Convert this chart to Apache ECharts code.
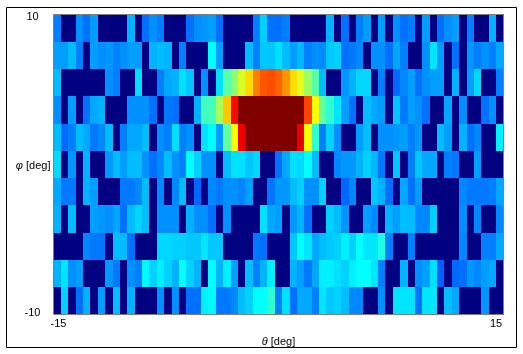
<!DOCTYPE html>
<html>
<head>
<meta charset="utf-8">
<style>
html,body{margin:0;padding:0;background:#fff;}
#main{width:523px;height:354px;}
</style>
<script src="https://cdn.jsdelivr.net/npm/echarts@6/dist/echarts.min.js"></script>
</head>
<body>
<div id="main"></div>
<script>
var thetaList = [-15,-14.5,-14,-13.5,-13,-12.5,-12,-11.5,-11,-10.5,-10,-9.5,-9,-8.5,-8,-7.5,-7,-6.5,-6,-5.5,-5,-4.5,-4,-3.5,-3,-2.5,-2,-1.5,-1,-0.5,0,0.5,1,1.5,2,2.5,3,3.5,4,4.5,5,5.5,6,6.5,7,7.5,8,8.5,9,9.5,10,10.5,11,11.5,12,12.5,13,13.5,14,14.5,15];
var phiList = [-10,-8,-6,-4,-2,0,2,4,6,8,10];

// one list per phi row, dark blue cells are 0
var phi10 = [25,0,0,26.6,23.5,28,0,0,0,0,
  30,0,23.5,26.6,25,0,0,0,23.5,26.6,
  27.4,28,23.5,0,0,0,0,25,33,23.5,
  23.5,25,0,0,0,0,0,30,0,23.5,
  0,25,28,0,28,0,26.6,23.5,25,0,
  28,0,23.5,26.6,28,0,25,0,0,30,
  0];
var phi8 = [28,28,31,25,0,28,26.6,27.4,25,26.6,
  28,28,0,30,31,30,0,25,0,0,
  0,37.5,28,0,0,0,31,25,32,32,
  34.5,31,28,30.5,25,26.6,25.8,32,33,23.5,
  24.3,25.8,0,26.6,26.6,23.5,29,25,0,0,
  26.6,35,28,0,23.5,0,27.4,25,26.6,25,
  29];
var phi6 = [31,0,0,0,0,0,0,26.6,25,0,
  0,34.5,0,0,25,29,30,34.5,32,0,
  26.6,0,34.5,46,51,59,66,75,79,80,
  78,73,66,60,53,46,31,0,0,27.4,
  30,33.7,33.7,0,25,0,22.7,25.8,28,23.5,
  26.6,28,28,0,30,0,28,33.7,0,0,
  25];
var phi4 = [26.6,0,28,0,23.5,29,30,0,0,0,
  26.6,26.6,26.6,23.5,0,24.3,23.5,0,0,30,
  44,44,54,68,87,100,100,100,100,100,
  100,100,100,100,81,62,47,42,35,28,
  23.5,0,31,29,28,0,32,24.3,28,26.6,
  23.5,0,0,29,0,26.6,0,0,23.5,26.6,
  0];
var phi2 = [31,23,25,31,29,24.3,25.8,31,0,25,
  29,29,31,0,26.6,25,34.5,25,26.6,0,
  34.5,37.5,28,47,62,89,100,100,100,100,
  100,100,100,90,62,42,25,33,26.6,0,
  0,28,31,0,26.6,26.6,27.4,28,25,27.4,
  0,0,31,28,0,30,23.5,25.8,0,0,
  36];
var phi0 = [34,0,27.4,0,30,0,0,27.4,31,28,
  31,31,26.6,23.5,25.8,31,26.6,25,37.5,33,
  26.6,26.6,0,31,34.5,34.5,32,33.7,0,0,
  23.5,29,34.5,33.7,37.5,31,0,0,25.8,27.4,
  27.4,30,33,30.5,24.3,0,32,0,25,32,
  29,29,0,25,24.3,0,0,28,0,0,
  0];
var phiM2 = [29,24.3,24.3,0,30,28,0,0,0,24.3,
  24.3,25.8,31,0,25.8,0,25.8,31,0,22.7,
  0,25.8,24.3,26.6,26.6,25.5,28,0,0,24,
  27.4,27.4,31,33,26.6,26.6,33,0,0,22.7,
  25.8,0,0,32,30,23.5,0,29,23.5,28,
  0,0,0,0,0,25.8,24.3,24.3,24.3,25,
  29];
var phiM4 = [30,0,31,0,0,28,27.4,26.6,29,23.5,
  31,33.7,31,0,26.6,26.6,26.6,0,30,26.6,
  26.6,23.5,0,26.6,0,0,0,0,34.5,29,
  28,0,27.4,30,23.5,0,0,33,31,27.4,
  0,0,28,25.8,0,30,28,31,31,25.8,
  25.8,33,0,0,0,26.6,0,25.8,0,0,
  25.8];
var phiM6 = [0,0,0,0,25.8,24.3,24.3,0,31,31,
  23.5,0,0,0,33.7,33.7,33,33,32,32,
  35,32,32,0,0,0,0,24.3,23.5,0,
  0,0,32,37.5,35,29,31,32,33,36,
  33,37.5,35,35,40,25,0,0,25,0,
  0,0,0,0,0,25.8,0,0,25,25,
  29];
var phiM8 = [30,35,26.6,28,0,0,0,27.4,24.3,0,
  26.6,25,37,33,36,33,30,38,33,30,
  0,37.5,30,36,28,0,31,25,30,36,
  0,0,30,28,24.3,29,36,36,34.5,33,
  36,37.5,37.5,35,25,0,0,30,0,26.6,
  28,34.5,22,0,22.7,23.5,27.4,25.8,28,29,
  0];
var phiM10 = [0,33,0,23.5,30,0,28,0,31,0,
  30,0,0,0,26.6,0,26.6,0,23.5,23.5,
  36,37,24.3,24.3,25.8,31,33,37.5,37.5,42,
  25,34.5,23.5,29,29,25,35,32,33,31,
  25.8,25.8,0,0,26.6,0,35,35,35,23.5,
  35,35,0,31,29,0,0,0,27.4,0,
  0];
var rows = [phiM10,phiM8,phiM6,phiM4,phiM2,phi0,phi2,phi4,phi6,phi8,phi10];

var jet = ['#000080','#0000ff','#0080ff','#00ffff','#80ff80','#ffff00','#ff8000','#ff0000','#800000'];
var labelFont = 'Liberation Sans';

var cells = [];
rows.forEach(function (row, y) {
    row.forEach(function (v, x) {
        cells.push([x, y, v]);
    });
});

// heatmap series leaves seams between fractional cells, so snap edges to pixels here
function renderCell(params, api) {
    var c = api.coord([api.value(0), api.value(1)]);
    var s = api.size([1, 1]);
    var x0 = Math.round(c[0] - s[0] / 2);
    var x1 = Math.round(c[0] + s[0] / 2);
    var y0 = Math.round(c[1] - s[1] / 2);
    var y1 = Math.round(c[1] + s[1] / 2);
    return {
        type: 'rect',
        shape: {x: x0, y: y0, width: x1 - x0, height: y1 - y0},
        style: {fill: api.visual('color')}
    };
}

var textStyle = {color: '#000', fontFamily: labelFont, fontSize: 11};

var myChart = echarts.init(document.getElementById('main'));
var option = {
    animation: false,
    backgroundColor: '#fff',
    grid: {
        show: true,
        z: 5,
        left: 53.5,
        top: 14.5,
        width: 450,
        height: 300,
        outerBoundsMode: 'none',
        borderColor: '#808080',
        borderWidth: 1,
        backgroundColor: 'transparent'
    },
    visualMap: {
        show: false,
        min: 0,
        max: 100,
        dimension: 2,
        seriesIndex: 0,
        inRange: {color: jet}
    },
    xAxis: [{
        type: 'category',
        data: thetaList,
        show: false
    }, {
        type: 'value',
        min: -15,
        max: 15,
        interval: 30,
        position: 'bottom',
        axisLine: {show: false},
        axisTick: {show: false},
        splitLine: {show: false},
        axisLabel: {
            margin: 4,
            color: '#000',
            formatter: function (v) {
                return (v < 0 ? '{a|' : '{b|') + v + '}';
            },
            rich: {
                a: Object.assign({padding: [0, 0, 0, 10]}, textStyle),
                b: Object.assign({padding: [0, 15, 0, 0]}, textStyle)
            }
        },
        name: '{i|θ} [deg]',
        nameLocation: 'middle',
        nameGap: 22,
        nameMoveOverlap: false,
        nameTextStyle: Object.assign({
            rich: {i: Object.assign({fontStyle: 'italic'}, textStyle)}
        }, textStyle)
    }],
    yAxis: [{
        type: 'category',
        data: phiList,
        show: false
    }, {
        type: 'value',
        min: -10,
        max: 10,
        interval: 20,
        position: 'left',
        axisLine: {show: false},
        axisTick: {show: false},
        splitLine: {show: false},
        axisLabel: {
            margin: 21,
            align: 'center',
            formatter: function (v) {
                return (v < 0 ? '{a|' : '{b|') + v + '}';
            },
            rich: {
                a: Object.assign({padding: [0, 0, 4, 0]}, textStyle),
                b: Object.assign({padding: [5, 0, 0, 0]}, textStyle)
            }
        },
        name: '{i|φ} [deg]',
        nameLocation: 'middle',
        nameGap: 3,
        nameMoveOverlap: false,
        nameRotate: 0,
        nameTextStyle: Object.assign({
            padding: [3, 0, 0, 0],
            rich: {i: Object.assign({fontStyle: 'italic'}, textStyle)}
        }, textStyle)
    }],
    series: [{
        type: 'custom',
        xAxisIndex: 0,
        yAxisIndex: 0,
        renderItem: renderCell,
        encode: {x: 0, y: 1},
        data: cells
    }],
    graphic: [{
        type: 'rect',
        silent: true,
        shape: {x: 6.5, y: 7.5, width: 510, height: 340},
        style: {fill: 'none', stroke: '#000', lineWidth: 1}
    }]
};
myChart.setOption(option);
</script>
</body>
</html>
